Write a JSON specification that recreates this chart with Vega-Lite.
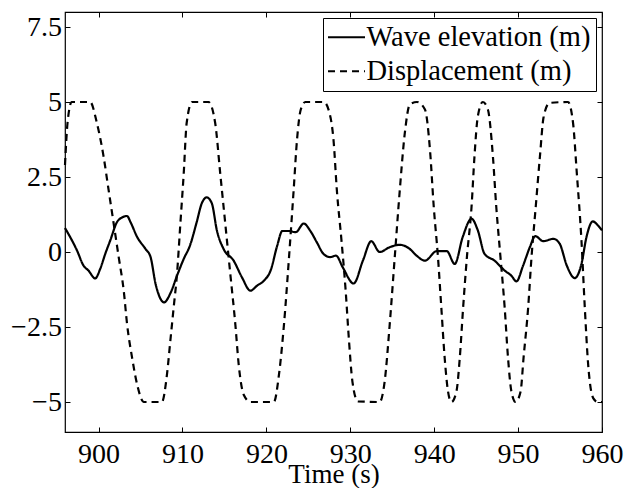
{
  "$schema": "https://vega.github.io/schema/vega-lite/v6.json",
  "width": 537,
  "height": 420,
  "autosize": {"type": "none"},
  "padding": {"left": 65, "top": 12, "right": 25, "bottom": 56},
  "background": "white",
  "config": {
    "font": "Liberation Serif",
    "view": {"stroke": "black", "strokeWidth": 1.2},
    "axis": {
      "grid": false,
      "domain": false,
      "tickColor": "black",
      "tickWidth": 1,
      "tickSize": -5,
      "labelColor": "black",
      "labelFont": "Liberation Serif",
      "labelFontSize": 28,
      "labelFlush": false,
      "titleColor": "black",
      "titleFont": "Liberation Serif",
      "titleFontSize": 27,
      "titleFontWeight": "normal"
    }
  },
  "data": {
    "values": [
      {"s": "Wave elevation (m)", "t": 896.0, "v": 0.8},
      {"s": "Wave elevation (m)", "t": 897.43, "v": 0.05},
      {"s": "Wave elevation (m)", "t": 898.2, "v": -0.45},
      {"s": "Wave elevation (m)", "t": 898.8, "v": -0.62},
      {"s": "Wave elevation (m)", "t": 899.6, "v": -0.88},
      {"s": "Wave elevation (m)", "t": 900.2, "v": -0.56},
      {"s": "Wave elevation (m)", "t": 900.8, "v": -0.06},
      {"s": "Wave elevation (m)", "t": 901.4, "v": 0.39},
      {"s": "Wave elevation (m)", "t": 902.2, "v": 1.0},
      {"s": "Wave elevation (m)", "t": 902.8, "v": 1.15},
      {"s": "Wave elevation (m)", "t": 903.4, "v": 1.2},
      {"s": "Wave elevation (m)", "t": 903.8, "v": 1.0},
      {"s": "Wave elevation (m)", "t": 904.6, "v": 0.5},
      {"s": "Wave elevation (m)", "t": 905.6, "v": 0.1},
      {"s": "Wave elevation (m)", "t": 906.2, "v": -0.17},
      {"s": "Wave elevation (m)", "t": 906.8, "v": -1.07},
      {"s": "Wave elevation (m)", "t": 907.4, "v": -1.57},
      {"s": "Wave elevation (m)", "t": 907.8, "v": -1.68},
      {"s": "Wave elevation (m)", "t": 908.6, "v": -1.35},
      {"s": "Wave elevation (m)", "t": 909.35, "v": -0.79},
      {"s": "Wave elevation (m)", "t": 910.15, "v": -0.23},
      {"s": "Wave elevation (m)", "t": 910.9, "v": 0.22},
      {"s": "Wave elevation (m)", "t": 911.7, "v": 1.0},
      {"s": "Wave elevation (m)", "t": 912.3, "v": 1.62},
      {"s": "Wave elevation (m)", "t": 912.9, "v": 1.82},
      {"s": "Wave elevation (m)", "t": 913.5, "v": 1.62},
      {"s": "Wave elevation (m)", "t": 914.1, "v": 0.72},
      {"s": "Wave elevation (m)", "t": 914.9, "v": 0.1},
      {"s": "Wave elevation (m)", "t": 916.1, "v": -0.29},
      {"s": "Wave elevation (m)", "t": 917.1, "v": -0.85},
      {"s": "Wave elevation (m)", "t": 918.1, "v": -1.29},
      {"s": "Wave elevation (m)", "t": 918.9, "v": -1.12},
      {"s": "Wave elevation (m)", "t": 919.7, "v": -0.96},
      {"s": "Wave elevation (m)", "t": 920.5, "v": -0.62},
      {"s": "Wave elevation (m)", "t": 921.3, "v": 0.22},
      {"s": "Wave elevation (m)", "t": 921.9, "v": 0.7},
      {"s": "Wave elevation (m)", "t": 922.7, "v": 0.7},
      {"s": "Wave elevation (m)", "t": 923.5, "v": 0.66},
      {"s": "Wave elevation (m)", "t": 924.45, "v": 0.95},
      {"s": "Wave elevation (m)", "t": 925.2, "v": 0.72},
      {"s": "Wave elevation (m)", "t": 926.0, "v": 0.33},
      {"s": "Wave elevation (m)", "t": 926.8, "v": -0.06},
      {"s": "Wave elevation (m)", "t": 927.6, "v": -0.17},
      {"s": "Wave elevation (m)", "t": 928.3, "v": -0.12},
      {"s": "Wave elevation (m)", "t": 929.1, "v": -0.51},
      {"s": "Wave elevation (m)", "t": 930.4, "v": -1.05},
      {"s": "Wave elevation (m)", "t": 931.5, "v": -0.29},
      {"s": "Wave elevation (m)", "t": 932.5, "v": 0.36},
      {"s": "Wave elevation (m)", "t": 933.5, "v": 0.0},
      {"s": "Wave elevation (m)", "t": 934.7, "v": 0.16},
      {"s": "Wave elevation (m)", "t": 935.9, "v": 0.24},
      {"s": "Wave elevation (m)", "t": 937.1, "v": 0.1},
      {"s": "Wave elevation (m)", "t": 937.9, "v": -0.12},
      {"s": "Wave elevation (m)", "t": 938.9, "v": -0.29},
      {"s": "Wave elevation (m)", "t": 940.3, "v": 0.03},
      {"s": "Wave elevation (m)", "t": 941.5, "v": 0.03},
      {"s": "Wave elevation (m)", "t": 942.45, "v": -0.4},
      {"s": "Wave elevation (m)", "t": 943.4, "v": 0.5},
      {"s": "Wave elevation (m)", "t": 944.45, "v": 1.11},
      {"s": "Wave elevation (m)", "t": 945.2, "v": 0.72},
      {"s": "Wave elevation (m)", "t": 946.0, "v": -0.06},
      {"s": "Wave elevation (m)", "t": 947.2, "v": -0.29},
      {"s": "Wave elevation (m)", "t": 948.4, "v": -0.62},
      {"s": "Wave elevation (m)", "t": 949.2, "v": -0.79},
      {"s": "Wave elevation (m)", "t": 949.8, "v": -0.98},
      {"s": "Wave elevation (m)", "t": 950.6, "v": -0.45},
      {"s": "Wave elevation (m)", "t": 951.4, "v": 0.16},
      {"s": "Wave elevation (m)", "t": 952.05, "v": 0.53},
      {"s": "Wave elevation (m)", "t": 953.0, "v": 0.36},
      {"s": "Wave elevation (m)", "t": 954.2, "v": 0.44},
      {"s": "Wave elevation (m)", "t": 954.95, "v": 0.28},
      {"s": "Wave elevation (m)", "t": 955.8, "v": -0.45},
      {"s": "Wave elevation (m)", "t": 956.75, "v": -0.87},
      {"s": "Wave elevation (m)", "t": 957.55, "v": -0.4},
      {"s": "Wave elevation (m)", "t": 958.15, "v": 0.5},
      {"s": "Wave elevation (m)", "t": 958.9, "v": 1.02},
      {"s": "Wave elevation (m)", "t": 959.5, "v": 0.89},
      {"s": "Wave elevation (m)", "t": 960.0, "v": 0.72},
      {"s": "Displacement (m)", "t": 896.0, "v": 2.9},
      {"s": "Displacement (m)", "t": 896.3, "v": 4.3},
      {"s": "Displacement (m)", "t": 896.8, "v": 5.0},
      {"s": "Displacement (m)", "t": 899.0, "v": 5.0},
      {"s": "Displacement (m)", "t": 899.8, "v": 4.3},
      {"s": "Displacement (m)", "t": 900.6, "v": 3.18},
      {"s": "Displacement (m)", "t": 901.2, "v": 2.06},
      {"s": "Displacement (m)", "t": 901.8, "v": 0.95},
      {"s": "Displacement (m)", "t": 902.4, "v": -0.17},
      {"s": "Displacement (m)", "t": 903.0, "v": -1.29},
      {"s": "Displacement (m)", "t": 903.4, "v": -2.41},
      {"s": "Displacement (m)", "t": 904.0, "v": -3.53},
      {"s": "Displacement (m)", "t": 904.6, "v": -4.42},
      {"s": "Displacement (m)", "t": 905.4, "v": -5.0},
      {"s": "Displacement (m)", "t": 907.55, "v": -5.0},
      {"s": "Displacement (m)", "t": 908.15, "v": -4.09},
      {"s": "Displacement (m)", "t": 908.55, "v": -2.97},
      {"s": "Displacement (m)", "t": 908.95, "v": -1.85},
      {"s": "Displacement (m)", "t": 909.35, "v": -0.73},
      {"s": "Displacement (m)", "t": 909.75, "v": 0.95},
      {"s": "Displacement (m)", "t": 910.15, "v": 2.62},
      {"s": "Displacement (m)", "t": 910.5, "v": 4.3},
      {"s": "Displacement (m)", "t": 911.15, "v": 5.0},
      {"s": "Displacement (m)", "t": 913.1, "v": 5.0},
      {"s": "Displacement (m)", "t": 913.9, "v": 4.3},
      {"s": "Displacement (m)", "t": 914.5, "v": 2.62},
      {"s": "Displacement (m)", "t": 915.1, "v": 0.95},
      {"s": "Displacement (m)", "t": 915.7, "v": -0.73},
      {"s": "Displacement (m)", "t": 916.3, "v": -2.41},
      {"s": "Displacement (m)", "t": 916.7, "v": -3.75},
      {"s": "Displacement (m)", "t": 917.3, "v": -4.76},
      {"s": "Displacement (m)", "t": 918.1, "v": -5.0},
      {"s": "Displacement (m)", "t": 920.9, "v": -5.0},
      {"s": "Displacement (m)", "t": 921.5, "v": -4.09},
      {"s": "Displacement (m)", "t": 922.1, "v": -2.41},
      {"s": "Displacement (m)", "t": 922.7, "v": -0.17},
      {"s": "Displacement (m)", "t": 923.25, "v": 2.06},
      {"s": "Displacement (m)", "t": 923.65, "v": 3.74},
      {"s": "Displacement (m)", "t": 924.1, "v": 4.75},
      {"s": "Displacement (m)", "t": 924.65, "v": 5.0},
      {"s": "Displacement (m)", "t": 926.85, "v": 5.0},
      {"s": "Displacement (m)", "t": 927.55, "v": 4.6},
      {"s": "Displacement (m)", "t": 928.0, "v": 3.74},
      {"s": "Displacement (m)", "t": 928.4, "v": 2.06},
      {"s": "Displacement (m)", "t": 928.95, "v": 0.39},
      {"s": "Displacement (m)", "t": 929.45, "v": -1.29},
      {"s": "Displacement (m)", "t": 929.85, "v": -2.97},
      {"s": "Displacement (m)", "t": 930.25, "v": -4.31},
      {"s": "Displacement (m)", "t": 930.9, "v": -4.98},
      {"s": "Displacement (m)", "t": 933.5, "v": -5.0},
      {"s": "Displacement (m)", "t": 934.1, "v": -4.31},
      {"s": "Displacement (m)", "t": 934.7, "v": -2.41},
      {"s": "Displacement (m)", "t": 935.3, "v": -0.17},
      {"s": "Displacement (m)", "t": 935.9, "v": 2.06},
      {"s": "Displacement (m)", "t": 936.5, "v": 3.97},
      {"s": "Displacement (m)", "t": 937.1, "v": 4.92},
      {"s": "Displacement (m)", "t": 937.95, "v": 5.0},
      {"s": "Displacement (m)", "t": 938.9, "v": 4.75},
      {"s": "Displacement (m)", "t": 939.5, "v": 3.4},
      {"s": "Displacement (m)", "t": 939.95, "v": 1.5},
      {"s": "Displacement (m)", "t": 940.45, "v": -0.17},
      {"s": "Displacement (m)", "t": 940.85, "v": -1.85},
      {"s": "Displacement (m)", "t": 941.25, "v": -3.53},
      {"s": "Displacement (m)", "t": 941.65, "v": -4.65},
      {"s": "Displacement (m)", "t": 942.05, "v": -5.0},
      {"s": "Displacement (m)", "t": 942.65, "v": -4.65},
      {"s": "Displacement (m)", "t": 943.05, "v": -3.53},
      {"s": "Displacement (m)", "t": 943.45, "v": -1.85},
      {"s": "Displacement (m)", "t": 943.9, "v": -0.17},
      {"s": "Displacement (m)", "t": 944.45, "v": 1.5},
      {"s": "Displacement (m)", "t": 944.8, "v": 3.18},
      {"s": "Displacement (m)", "t": 945.2, "v": 4.52},
      {"s": "Displacement (m)", "t": 945.8, "v": 5.0},
      {"s": "Displacement (m)", "t": 946.4, "v": 4.75},
      {"s": "Displacement (m)", "t": 947.0, "v": 3.18},
      {"s": "Displacement (m)", "t": 947.4, "v": 1.5},
      {"s": "Displacement (m)", "t": 947.9, "v": -0.17},
      {"s": "Displacement (m)", "t": 948.4, "v": -1.85},
      {"s": "Displacement (m)", "t": 948.8, "v": -3.53},
      {"s": "Displacement (m)", "t": 949.2, "v": -4.65},
      {"s": "Displacement (m)", "t": 949.7, "v": -5.0},
      {"s": "Displacement (m)", "t": 950.3, "v": -4.65},
      {"s": "Displacement (m)", "t": 950.65, "v": -3.53},
      {"s": "Displacement (m)", "t": 951.2, "v": -1.85},
      {"s": "Displacement (m)", "t": 951.6, "v": -0.17},
      {"s": "Displacement (m)", "t": 952.1, "v": 1.5},
      {"s": "Displacement (m)", "t": 952.6, "v": 3.18},
      {"s": "Displacement (m)", "t": 953.05, "v": 4.52},
      {"s": "Displacement (m)", "t": 953.75, "v": 4.97},
      {"s": "Displacement (m)", "t": 955.95, "v": 5.0},
      {"s": "Displacement (m)", "t": 956.55, "v": 4.3},
      {"s": "Displacement (m)", "t": 957.0, "v": 2.62},
      {"s": "Displacement (m)", "t": 957.55, "v": 0.39},
      {"s": "Displacement (m)", "t": 957.95, "v": -1.85},
      {"s": "Displacement (m)", "t": 958.35, "v": -3.75},
      {"s": "Displacement (m)", "t": 958.95, "v": -4.87},
      {"s": "Displacement (m)", "t": 959.5, "v": -5.0},
      {"s": "Displacement (m)", "t": 960.0, "v": -5.0}
    ]
  },
  "layer": [
    {
      "mark": {"type": "line", "interpolate": "monotone", "color": "black", "strokeWidth": 2.2},
      "encoding": {
        "x": {
          "field": "t", "type": "quantitative",
          "scale": {"domain": [896, 960], "nice": false, "zero": false},
          "axis": {"orient": "bottom", "values": [900, 910, 920, 930, 940, 950, 960], "format": "d", "labelPadding": 13.4, "title": "Time (s)", "titlePadding": -7}
        },
        "y": {
          "field": "v", "type": "quantitative",
          "scale": {"domain": [-6, 8], "nice": false, "zero": false},
          "axis": {"orient": "left", "values": [-5, -2.5, 0, 2.5, 5, 7.5], "format": ".2~g", "labelPadding": 8.6, "title": null}
        },
        "strokeDash": {
          "field": "s", "type": "nominal",
          "scale": {"domain": ["Wave elevation (m)", "Displacement (m)"], "range": [[1, 0], [7, 5]]},
          "legend": {
            "title": null,
            "orient": "top-right",
            "offset": 6,
            "symbolType": "M-1.54,0H2.46",
            "symbolSize": 342,
            "symbolStrokeWidth": 2,
            "symbolStrokeColor": "black",
            "labelFont": "Liberation Serif",
            "labelFontSize": 28.5,
            "labelLimit": 0,
            "labelColor": "black",
            "labelOffset": 10,
            "strokeColor": "black",
            "fillColor": "white",
            "padding": 5,
            "rowPadding": 5,
            "cornerRadius": 0
          }
        }
      }
    },
    {
      "mark": {"type": "line", "strokeOpacity": 0},
      "encoding": {
        "x": {
          "field": "t", "type": "quantitative",
          "axis": {"orient": "top", "values": [900, 910, 920, 930, 940, 950, 960], "labels": false, "title": null}
        },
        "y": {
          "field": "v", "type": "quantitative",
          "axis": {"orient": "right", "values": [-5, -2.5, 0, 2.5, 5, 7.5], "labels": false, "title": null}
        }
      }
    }
  ],
  "resolve": {"axis": {"x": "independent", "y": "independent"}}
}
